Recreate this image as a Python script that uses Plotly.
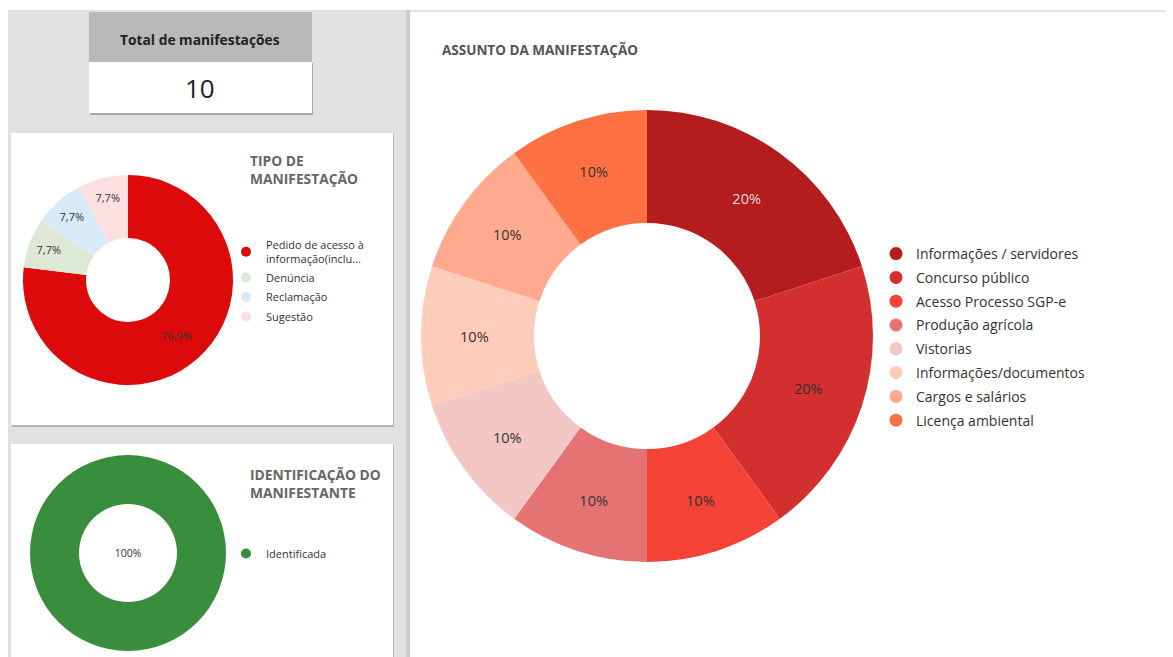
import plotly.graph_objects as go

# page is drawn with an 8px body margin, so the figure sits at (8, 8)
PAGE_W, PAGE_H = 1173, 657
OFF = 8
W, H = PAGE_W - OFF, PAGE_H - OFF
FONT = 'Open Sans'

# --- data ---
total_manifestacoes = 10

tipo_labels = ['Pedido de acesso à informação(inclu...', 'Denúncia', 'Reclamação', 'Sugestão']
tipo_legend = ['Pedido de acesso à<br>informação(inclu...', 'Denúncia', 'Reclamação', 'Sugestão']
tipo_values = [10, 1, 1, 1]
tipo_colors = ['#dc0a0a', '#dde8d6', '#d8eaf8', '#fcdfe1']

ident_labels = ['Identificada']
ident_values = [10]
ident_colors = ['#388e3c']

assunto_labels = ['Informações / servidores', 'Concurso público', 'Acesso Processo SGP-e',
                  'Produção agrícola', 'Vistorias', 'Informações/documentos',
                  'Cargos e salários', 'Licença ambiental']
assunto_values = [2, 2, 1, 1, 1, 1, 1, 1]
assunto_colors = ['#b51c1e', '#d32f2f', '#f44336', '#e57373', '#f3c7c3',
                  '#ffccbc', '#ffa98f', '#ff7043']
assunto_text_colors = ['#dddddd', '#333333', '#333333', '#333333', '#333333',
                       '#333333', '#333333', '#333333']


def fx(v):
    return (v - OFF) / W


def fy(v):
    return 1 - (v - OFF) / H


def rect(x0, y0, x1, y1, color):
    return dict(type='rect', xref='paper', yref='paper', layer='below',
                x0=fx(x0), x1=fx(x1), y0=fy(y1), y1=fy(y0),
                fillcolor=color, line=dict(width=0))


def pie_domain(cx, cy, r):
    return dict(x=[fx(cx - r), fx(cx + r)], y=[fy(cy + r), fy(cy - r)])


fig = go.Figure()

fig.add_trace(go.Pie(
    labels=tipo_labels, values=tipo_values, hole=0.4, sort=False, direction='clockwise',
    marker=dict(colors=tipo_colors), texttemplate='%{percent:.1%}',
    textposition='inside', insidetextorientation='horizontal',
    textfont=dict(size=11, color='#333333', family=FONT),
    domain=pie_domain(128, 280, 105), showlegend=False,
))

ident_pct = '{:.0f}%'.format(100 * ident_values[0] / sum(ident_values))
fig.add_trace(go.Pie(
    labels=ident_labels, values=ident_values, hole=0.5, sort=False, direction='clockwise',
    marker=dict(colors=ident_colors), textinfo='none',
    title=dict(text=ident_pct, position='middle center',
               font=dict(size=10.5, color='#333333', family=FONT)),
    domain=pie_domain(128, 553, 98), showlegend=False,
))

fig.add_trace(go.Pie(
    labels=assunto_labels, values=assunto_values, hole=0.5, sort=False, direction='clockwise',
    marker=dict(colors=assunto_colors), texttemplate='%{percent:.0%}',
    textposition='inside', insidetextorientation='horizontal',
    textfont=dict(size=14.5, color=assunto_text_colors, family=FONT),
    domain=pie_domain(647, 336, 226), showlegend=False,
))

# legend entries with round markers
for name, color in zip(tipo_legend, tipo_colors):
    fig.add_trace(go.Scatter(x=[None], y=[None], mode='markers', name=name,
                             legendgroup=name, legend='legend',
                             marker=dict(color=color, size=10, symbol='circle')))
for name, color in zip(ident_labels, ident_colors):
    fig.add_trace(go.Scatter(x=[None], y=[None], mode='markers', name=name,
                             legendgroup=name, legend='legend2',
                             marker=dict(color=color, size=10, symbol='circle')))
for name, color in zip(assunto_labels, assunto_colors):
    fig.add_trace(go.Scatter(x=[None], y=[None], mode='markers', name=name,
                             legendgroup=name, legend='legend3',
                             marker=dict(color=color, size=13, symbol='circle')))

shapes = [
    rect(8, 10, PAGE_W, PAGE_H, '#e1e1e1'),
    # total card
    rect(90, 63, 313, 115, '#a8a8a8'),
    rect(89, 12, 312, 62, '#b9b9b9'),
    rect(89, 62, 312, 113, '#ffffff'),
    # tipo panel
    rect(12, 134, 394, 427, '#b3b3b3'),
    rect(11, 133, 393, 425, '#ffffff'),
    # identificacao panel
    rect(12, 445, 394, PAGE_H, '#b3b3b3'),
    rect(11, 444, 393, PAGE_H, '#ffffff'),
    # assunto panel
    rect(406, 10, 410, PAGE_H, '#cdcdcd'),
    rect(410, 12, PAGE_W, PAGE_H, '#ffffff'),
]

annotations = [
    dict(text='<b>Total de manifestações</b>', x=fx(200), y=fy(39),
         font=dict(size=13.8, color='#222222')),
    dict(text=str(total_manifestacoes), x=fx(200), y=fy(88),
         font=dict(size=26, color='#222222')),
    dict(text='<b>TIPO DE<br>MANIFESTAÇÃO</b>', x=fx(248), y=fy(149), xanchor='left',
         yanchor='top', align='left', font=dict(size=13.8, color='#666666')),
    dict(text='<b>IDENTIFICAÇÃO DO<br>MANIFESTANTE</b>', x=fx(248), y=fy(463), xanchor='left',
         yanchor='top', align='left', font=dict(size=13.8, color='#666666')),
    dict(text='<b>ASSUNTO DA MANIFESTAÇÃO</b>', x=fx(440), y=fy(50), xanchor='left',
         font=dict(size=13.5, color='#555555')),
]
for a in annotations:
    a.update(xref='paper', yref='paper', showarrow=False)
    a.setdefault('xanchor', 'center')
    a.setdefault('yanchor', 'middle')
    a['font'].setdefault('family', FONT)

legend_common = dict(bgcolor='rgba(0,0,0,0)', xanchor='left', yanchor='top',
                     itemsizing='trace', itemwidth=30, itemclick=False, itemdoubleclick=False)

fig.update_layout(
    width=W, height=H,
    margin=dict(l=0, r=0, t=0, b=0),
    paper_bgcolor='#ffffff', plot_bgcolor='rgba(0,0,0,0)',
    separators=',.',
    font=dict(family=FONT, color='#333333'),
    xaxis=dict(visible=False), yaxis=dict(visible=False),
    shapes=shapes, annotations=annotations,
    legend=dict(x=fx(226), y=fy(231), tracegroupgap=0.5,
                font=dict(size=11, color='#333333'), **legend_common),
    legend2=dict(x=fx(226), y=fy(539), tracegroupgap=0,
                 font=dict(size=11, color='#333333'), **legend_common),
    legend3=dict(x=fx(876), y=fy(238), tracegroupgap=2.6,
                 font=dict(size=14, color='#333333'), **legend_common),
)

fig.write_html('out.html')
